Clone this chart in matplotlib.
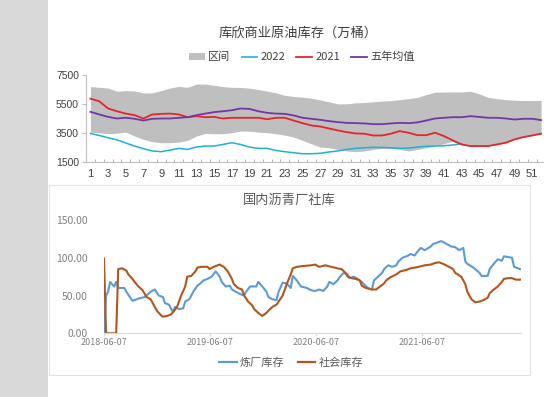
import matplotlib
matplotlib.use("Agg")
import matplotlib.pyplot as plt
from matplotlib.patches import Rectangle, Patch
from matplotlib.lines import Line2D
from matplotlib.ticker import FormatStrFormatter
import numpy as np
import pandas as pd

plt.rcParams['font.family'] = ['Noto Sans CJK SC', 'DejaVu Sans']

# ---------------- top chart data (weeks 1..52) ----------------
weeks = list(range(1, 53))
band_hi = [6700, 6650, 6600, 6380, 6420, 6400, 6260, 6270, 6420, 6600,
           6710, 6650, 6880, 6870, 6790, 6700, 6650, 6640, 6590, 6500,
           6380, 6270, 6100, 6020, 5970, 5900, 5780, 5650, 5510, 5510,
           5580, 5600, 5650, 5700, 5730, 5800, 5870, 5950, 6150, 6310,
           6330, 6330, 6330, 6380, 6200, 5960, 5870, 5800, 5760, 5740,
           5740, 5740]
band_lo = [3560, 3520, 3450, 3490, 3560, 3290, 3060, 2900, 2830, 2830,
           2870, 2990, 3290, 3470, 3450, 3450, 3520, 3630, 3630, 3560,
           3520, 3450, 3350, 3220, 2990, 2760, 2530, 2480, 2370, 2260,
           2210, 2260, 2370, 2440, 2440, 2370, 2260, 2370, 2480, 2600,
           2760, 2940, 2710, 2600, 2600, 2600, 2700, 2820, 3050, 3210,
           3320, 3440]
y2021 = [5870, 5690, 5190, 5000, 4840, 4730, 4500, 4780, 4820, 4840,
         4780, 4590, 4660, 4590, 4610, 4500, 4550, 4550, 4550, 4550,
         4450, 4550, 4550, 4360, 4180, 4020, 3950, 3810, 3680, 3560,
         3470, 3450, 3330, 3330, 3450, 3630, 3520, 3350, 3350, 3520,
         3290, 2990, 2710, 2600, 2600, 2600, 2710, 2830, 3060, 3220,
         3330, 3450]
avg5 = [4960, 4780, 4610, 4500, 4550, 4480, 4360, 4480, 4500, 4500,
        4550, 4590, 4730, 4840, 4940, 5000, 5070, 5190, 5160, 5000,
        4890, 4840, 4820, 4710, 4550, 4480, 4410, 4320, 4250, 4200,
        4180, 4160, 4110, 4110, 4160, 4200, 4180, 4230, 4360, 4500,
        4550, 4590, 4590, 4660, 4610, 4550, 4550, 4500, 4430, 4480,
        4480, 4390]
y2022 = [3470, 3330, 3170, 3030, 2810, 2600, 2420, 2260, 2210, 2320,
         2440, 2370, 2530, 2600, 2600, 2710, 2830, 2710, 2530, 2440,
         2440, 2300, 2210, 2140, 2070, 2070, 2100, 2190, 2260, 2370,
         2440, 2480, 2510, 2500, 2480, 2440, 2460, 2530, 2580, 2600,
         2620, 2670, 2760]
top_title = "库欣商业原油库存（万桶）"
top_labels = ["区间", "2022", "2021", "五年均值"]

# ---------------- bottom chart data ----------------
start_date = "2018-06-07"
refinery_weeks = [0, 1, 2, 3, 5, 6, 7, 10, 11, 14, 17, 20, 23, 25, 27, 29, 30, 32,
                  34, 35, 37, 39, 40, 42, 44, 46, 47, 49, 51, 53, 55, 57, 58, 60,
                  62, 63, 65, 67, 69, 70, 72, 75, 76, 78, 80, 81, 83, 85, 86, 88,
                  90, 92, 93, 95, 97, 100, 102, 104, 106, 108, 110, 111, 113, 115,
                  116, 118, 120, 121, 123, 125, 127, 128, 130, 132, 133, 135, 137,
                  138, 140, 142, 144, 145, 147, 150, 151, 153, 155, 156, 158, 161,
                  162, 164, 166, 167, 169, 171, 173, 175, 177, 178, 179, 182, 185,
                  186, 189, 190, 192, 194, 196, 197, 199, 201, 202, 205]
refinery = [0, 50, 55, 68, 62, 68, 60, 60, 55, 43, 46, 48, 55, 58, 50, 48, 40, 38,
            28, 35, 32, 33, 42, 45, 55, 63, 65, 70, 72, 75, 82, 75, 68, 62,
            63, 58, 55, 52, 50, 55, 62, 62, 68, 62, 55, 48, 45, 44, 55, 67,
            66, 60, 76, 70, 62, 60, 57, 56, 58, 56, 62, 68, 65, 70,
            74, 80, 78, 73, 75, 72, 68, 65, 60, 58, 70, 75, 80,
            85, 90, 88, 90, 95, 100, 103, 105, 103, 110, 113, 110, 115,
            118, 120, 122, 121, 118, 115, 114, 110, 113, 95, 92, 87, 80,
            76, 76, 85, 92, 98, 96, 102, 101, 100, 88, 85]
social_weeks = [0, 1, 3, 6, 7, 9, 11, 12, 14, 16, 17, 19, 21, 23, 24, 26, 28, 29,
                31, 33, 34, 36, 38, 40, 41, 43, 45, 46, 48, 51, 52, 54, 56, 57,
                59, 61, 63, 64, 66, 68, 69, 71, 73, 74, 76, 78, 80, 81, 83, 85,
                86, 88, 90, 92, 93, 95, 98, 102, 104, 106, 109, 112, 115, 117,
                119, 120, 122, 124, 126, 127, 129, 132, 134, 136, 138, 139, 141,
                144, 146, 149, 151, 153, 155, 158, 161, 163, 165, 167, 170, 172,
                173, 176, 178, 179, 181, 183, 185, 187, 189, 190, 192, 194, 196,
                197, 199, 201, 203, 205]
social = [99, 0, 0, 0, 85, 86, 83, 78, 72, 65, 62, 57, 48, 45, 40, 30, 24, 22,
          23, 25, 28, 35, 50, 62, 75, 76, 82, 87, 88, 88, 85, 88, 90, 91,
          88, 82, 72, 65, 60, 58, 50, 42, 37, 32, 27, 23, 27, 30, 35, 38,
          42, 50, 65, 78, 86, 88, 89, 90, 91, 88, 90, 88, 86, 85,
          80, 75, 73, 72, 70, 63, 60, 58, 58, 62, 66, 70, 74,
          78, 82, 84, 86, 87, 88, 90, 91, 93, 94, 92, 88, 85,
          80, 75, 65, 55, 45, 41, 42, 44, 47, 53, 58, 62, 68,
          72, 73, 73, 71, 71]
bottom_title = "国内沥青厂社库"
bottom_labels = ["炼厂库存", "社会库存"]
date_ticks = ["2018-06-07", "2019-06-07", "2020-06-07", "2021-06-07"]

# ---------------- figure ----------------
W, H = 544, 397
fig = plt.figure(figsize=(W / 100, H / 100), dpi=100)
fig.patch.set_facecolor("white")

def fx(px):
    return px / W

def fy(py):
    return 1 - py / H

# left gray strip and bottom box (behind everything)
fig.patches.append(Rectangle((0, 0), fx(48), 1, transform=fig.transFigure,
                             facecolor="#d9d9d9", edgecolor="none", zorder=-5))
fig.patches.append(Rectangle((fx(49), fy(375)), fx(530) - fx(49), fy(185) - fy(375),
                             transform=fig.transFigure, facecolor="white",
                             edgecolor="#e3e3e3", linewidth=0.8, zorder=-4))

# ---------------- top axes ----------------
ax1 = fig.add_axes([fx(86), fy(162), fx(545.5) - fx(86), fy(75) - fy(162)])
ax1.set_zorder(2)
ax1.set_facecolor("none")
ax1.fill_between(weeks, band_lo, band_hi, color="#bfbfbf", linewidth=0, zorder=1)
ax1.plot(weeks[:len(y2022)], y2022, color="#1bb3d4", linewidth=1.1, zorder=3)
ax1.plot(weeks, y2021, color="#e5252a", linewidth=1.3, zorder=4)
ax1.plot(weeks, avg5, color="#7535a5", linewidth=1.3, zorder=5)
ax1.set_xlim(0.5, 52.5)
ax1.set_ylim(1500, 7500)
ax1.set_yticks([1500, 3500, 5500, 7500])
ax1.set_xticks(list(range(1, 53, 2)))
ax1.set_xticks(np.arange(0.5, 53, 1.0), minor=True)
for s in ["top", "right"]:
    ax1.spines[s].set_visible(False)
ax1.spines["left"].set_color("#bfbfbf")
ax1.spines["bottom"].set_color("#bfbfbf")
ax1.spines["left"].set_linewidth(0.8)
ax1.spines["bottom"].set_linewidth(0.8)
ax1.tick_params(axis="x", which="major", length=0, labelsize=8, pad=5,
                labelcolor="#404040")
ax1.tick_params(axis="x", which="minor", length=2.5, direction="in", color="#a6a6a6")
ax1.tick_params(axis="y", length=3, direction="out", color="#bfbfbf",
                labelsize=7.5, labelcolor="#404040", pad=2)
for lab in ax1.get_xticklabels() + ax1.get_yticklabels():
    lab.set_family(["Liberation Sans", "DejaVu Sans"])

fig.text(fx(298), fy(33), top_title, ha="center", va="center", fontsize=9.5,
         color="#404040")
handles1 = [Patch(facecolor="#bfbfbf", edgecolor="none"),
            Line2D([], [], color="#1bb3d4", linewidth=1.2),
            Line2D([], [], color="#e5252a", linewidth=1.3),
            Line2D([], [], color="#7535a5", linewidth=1.3)]
leg1 = fig.legend(handles1, top_labels, loc="center", bbox_to_anchor=(fx(302), fy(57)),
                  ncol=4, frameon=False, fontsize=8, handlelength=1.4,
                  handletextpad=0.3, columnspacing=1.0, handleheight=0.6)
for t in leg1.get_texts():
    t.set_color("#404040")

# ---------------- bottom axes ----------------
d0 = pd.Timestamp(start_date)
ref_dates = d0 + pd.to_timedelta(np.array(refinery_weeks) * 7, unit="D")
soc_dates = d0 + pd.to_timedelta(np.array(social_weeks) * 7, unit="D")

ax2 = fig.add_axes([fx(104), fy(333.3), fx(521) - fx(104), fy(220) - fy(333.3)])
ax2.set_zorder(2)
ax2.set_facecolor("none")
ax2.plot(ref_dates, refinery, color="#5b9bd5", linewidth=1.5, zorder=3)
ax2.plot(soc_dates, social, color="#b4561c", linewidth=1.5, zorder=4)
ax2.set_ylim(0, 150)
ax2.set_yticks([0, 50, 100, 150])
ax2.yaxis.set_major_formatter(FormatStrFormatter("%.2f"))
ax2.set_xlim(d0, pd.Timestamp("2022-05-15"))
ax2.set_xticks([pd.Timestamp(d) for d in date_ticks])
ax2.set_xticklabels(date_ticks)
for s in ["top", "right", "left"]:
    ax2.spines[s].set_visible(False)
ax2.spines["bottom"].set_color("#d9d9d9")
ax2.spines["bottom"].set_linewidth(0.8)
ax2.tick_params(axis="y", length=0, labelsize=7.5, labelcolor="#808080", pad=12)
ax2.tick_params(axis="x", length=2, color="#d9d9d9", labelsize=6.5,
                labelcolor="#808080", pad=1.5)

fig.text(fx(289), fy(200), bottom_title, ha="center", va="center", fontsize=9.5,
         color="#595959")
handles2 = [Line2D([], [], color="#5b9bd5", linewidth=1.6),
            Line2D([], [], color="#b4561c", linewidth=1.6)]
leg2 = fig.legend(handles2, bottom_labels, loc="center", bbox_to_anchor=(fx(291), fy(363)),
                  ncol=2, frameon=False, fontsize=8, handlelength=1.6,
                  handletextpad=0.3, columnspacing=1.2)
for t in leg2.get_texts():
    t.set_color("#595959")

fig.savefig("out.png", dpi=100, facecolor="white")
